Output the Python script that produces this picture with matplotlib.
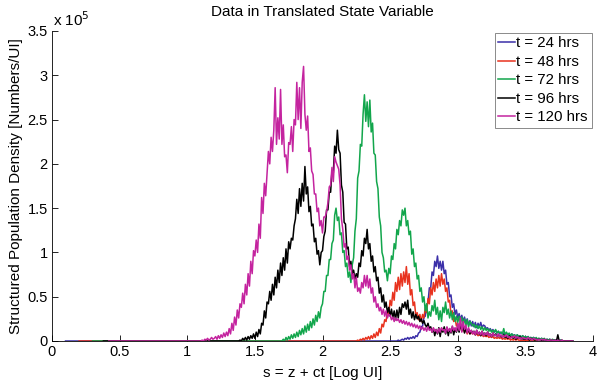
import numpy as np
import matplotlib
matplotlib.use("Agg")
import matplotlib.pyplot as plt

plt.rcParams['font.family'] = ['Liberation Sans', 'DejaVu Sans']

STEP = 0.01

labels = ["t = 24 hrs", "t = 48 hrs", "t = 72 hrs", "t = 96 hrs", "t = 120 hrs"]
colors = ["#3b2fa8", "#e8321e", "#12a64c", "#000000", "#c4249f"]

# baseline (zero) start and first digitized s for each series
zero_start = [0.10, 0.20, 0.30, 0.38, 0.42]
data_start = [2.55, 2.25, 1.70, 1.38, 1.10]

# values in units of 1e5 [Numbers/UI], sampled every 0.01 from data_start
blue = [0.0, 0.01, 0.0, 0.01, 0.02,
        0.01, 0.03, 0.02, 0.04, 0.02, 0.04, 0.03, 0.05, 0.03, 0.06,
        0.05, 0.09, 0.1, 0.16, 0.17, 0.27, 0.28, 0.41, 0.43, 0.6,
        0.6, 0.78, 0.74, 0.9, 0.84, 0.96, 0.82, 0.9, 0.8, 0.9,
        0.76, 0.8, 0.64, 0.66, 0.5, 0.52, 0.38, 0.42, 0.3, 0.35,
        0.26, 0.31, 0.24, 0.29, 0.22, 0.27, 0.2, 0.25, 0.18, 0.23,
        0.17, 0.22, 0.16, 0.21, 0.15, 0.2, 0.16, 0.21, 0.15, 0.18,
        0.17, 0.14, 0.15, 0.12, 0.14, 0.11, 0.13, 0.1, 0.12, 0.09,
        0.11, 0.08, 0.1, 0.08, 0.09, 0.07, 0.09, 0.07, 0.08, 0.06,
        0.08, 0.06, 0.07, 0.05, 0.07, 0.05, 0.06, 0.04, 0.06, 0.04,
        0.05, 0.04, 0.05, 0.03, 0.04, 0.03, 0.04, 0.03, 0.03, 0.02,
        0.03, 0.02, 0.03, 0.02, 0.02, 0.01, 0.02, 0.01, 0.02, 0.01,
        0.01, 0.01, 0.01, 0.0, 0.01, 0.0, 0.01, 0.0, 0.0, 0.0,
        0.0, 0.0, 0.0, 0.0, 0.0, 0.0]

red = [0.0, 0.01, 0.0, 0.02, 0.01,
       0.03, 0.01, 0.04, 0.02, 0.05, 0.02, 0.06, 0.03, 0.08, 0.04,
       0.1, 0.06, 0.14, 0.09, 0.19, 0.16, 0.24, 0.22, 0.34, 0.3,
       0.46, 0.4, 0.55, 0.46, 0.66, 0.56, 0.72, 0.58, 0.76, 0.62,
       0.78, 0.66, 0.84, 0.64, 0.76, 0.52, 0.58, 0.4, 0.44, 0.28,
       0.32, 0.24, 0.3, 0.22, 0.3, 0.26, 0.38, 0.32, 0.48, 0.42,
       0.6, 0.52, 0.66, 0.56, 0.7, 0.6, 0.74, 0.62, 0.76, 0.64,
       0.7, 0.56, 0.6, 0.44, 0.46, 0.3, 0.34, 0.22, 0.26, 0.17,
       0.2, 0.13, 0.17, 0.11, 0.15, 0.1, 0.13, 0.08, 0.12, 0.08,
       0.1, 0.08, 0.09, 0.07, 0.08, 0.06, 0.07, 0.06, 0.07, 0.05,
       0.06, 0.05, 0.06, 0.04, 0.05, 0.04, 0.05, 0.03, 0.04, 0.03,
       0.04, 0.03, 0.04, 0.02, 0.03, 0.02, 0.03, 0.02, 0.03, 0.01,
       0.02, 0.01, 0.02, 0.01, 0.02, 0.01, 0.01, 0.0, 0.01, 0.0,
       0.01, 0.0, 0.01, 0.0, 0.0, 0.01, 0.0, 0.0, 0.0, 0.0]

green = [0.0, 0.02, 0.0, 0.04, 0.01, 0.05, 0.02, 0.07, 0.03, 0.08,
         0.04, 0.1, 0.05, 0.12, 0.07, 0.14, 0.08, 0.17, 0.1, 0.19,
         0.12, 0.22, 0.15, 0.25, 0.18, 0.29, 0.22, 0.33, 0.26, 0.38,
         0.42, 0.56, 0.56, 0.74, 0.74, 0.92, 0.92, 1.1, 1.14, 1.42,
         1.5, 1.36, 1.4, 1.2, 1.22, 1.0, 1.02, 0.84, 0.88, 0.72,
         0.78, 0.66, 0.86, 0.94, 1.24, 1.38, 1.84, 1.92, 2.22, 2.2,
         2.56, 2.78, 2.48, 2.7, 2.42, 2.72, 2.36, 2.46, 2.12, 2.1,
         1.8, 1.72, 1.4, 1.3, 1.0, 0.94, 0.78, 0.8, 0.68, 0.82,
         0.76, 0.96, 0.92, 1.1, 1.04, 1.26, 1.2, 1.36, 1.3, 1.48,
         1.42, 1.5, 1.3, 1.36, 1.2, 1.24, 0.98, 1.04, 0.84, 0.88,
         0.7, 0.74, 0.56, 0.6, 0.44, 0.5, 0.34, 0.42, 0.26, 0.33,
         0.28, 0.4, 0.34, 0.46, 0.3, 0.38, 0.24, 0.34, 0.22, 0.38,
         0.32, 0.44, 0.3, 0.36, 0.26, 0.34, 0.24, 0.32, 0.22, 0.28,
         0.21, 0.28, 0.2, 0.27, 0.19, 0.25, 0.17, 0.24, 0.16, 0.22,
         0.2, 0.17, 0.19, 0.15, 0.18, 0.14, 0.17, 0.13, 0.16, 0.12,
         0.15, 0.12, 0.14, 0.11, 0.13, 0.1, 0.12, 0.1, 0.13, 0.09,
         0.11, 0.09, 0.1, 0.08, 0.14, 0.07, 0.1, 0.07, 0.09, 0.06,
         0.08, 0.06, 0.07, 0.05, 0.07, 0.05, 0.06, 0.04, 0.06, 0.04,
         0.05, 0.04, 0.05, 0.03, 0.04, 0.03, 0.04, 0.02, 0.04, 0.02,
         0.03, 0.02, 0.03, 0.02, 0.03, 0.01, 0.02, 0.01, 0.02, 0.01,
         0.02, 0.01, 0.01, 0.0, 0.01, 0.0, 0.01, 0.0, 0.0, 0.0,
         0.0, 0.0, 0.0, 0.0, 0.0, 0.0]

black = [0.0, 0.01,
         0.0, 0.03, 0.01, 0.04, 0.01, 0.05, 0.02, 0.06, 0.03, 0.08,
         0.03, 0.1, 0.05, 0.13, 0.08, 0.2, 0.18, 0.34, 0.26, 0.44,
         0.42, 0.56, 0.46, 0.64, 0.52, 0.72, 0.6, 0.8, 0.66, 0.88,
         0.74, 0.94, 0.8, 1.04, 0.88, 1.12, 1.04, 1.16, 1.14, 1.3,
         1.38, 1.6, 1.44, 1.72, 1.52, 1.78, 1.58, 1.97, 1.66, 1.74,
         1.46, 1.52, 1.3, 1.32, 1.12, 1.16, 0.98, 1.02, 0.86, 1.0,
         1.02, 1.18, 1.24, 1.48, 1.48, 1.68, 1.68, 1.92, 1.9, 2.2,
         2.12, 2.38, 2.16, 2.12, 1.76, 1.68, 1.34, 1.32, 1.04, 1.06,
         0.84, 0.9, 0.74, 0.8, 0.7, 0.76, 0.72, 0.88, 0.84, 1.02,
         0.96, 1.16, 1.1, 1.26, 1.04, 1.1, 0.9, 0.96, 0.78, 0.84,
         0.68, 0.72, 0.54, 0.6, 0.44, 0.52, 0.38, 0.44, 0.32, 0.38,
         0.28, 0.36, 0.26, 0.34, 0.24, 0.35, 0.26, 0.38, 0.3, 0.42,
         0.38, 0.44, 0.36, 0.46, 0.3, 0.36, 0.26, 0.33, 0.24, 0.3,
         0.25, 0.28, 0.22, 0.25, 0.2, 0.23, 0.18, 0.16, 0.2, 0.14,
         0.16, 0.1, 0.14, 0.06, 0.13, 0.08, 0.15, 0.05, 0.14, 0.1,
         0.16, 0.08, 0.15, 0.06, 0.14, 0.09, 0.16, 0.07, 0.14, 0.1,
         0.16, 0.1, 0.2, 0.12, 0.17, 0.09, 0.14, 0.1, 0.13, 0.08,
         0.12, 0.09, 0.11, 0.07, 0.12, 0.08, 0.1, 0.06, 0.11, 0.07,
         0.09, 0.06, 0.1, 0.07, 0.08, 0.05, 0.09, 0.06, 0.08, 0.05,
         0.07, 0.05, 0.06, 0.04, 0.07, 0.04, 0.05, 0.03, 0.06, 0.04,
         0.05, 0.03, 0.05, 0.02, 0.04, 0.03, 0.05, 0.02, 0.03, 0.02,
         0.03, 0.02, 0.03, 0.01, 0.03, 0.02, 0.02, 0.01, 0.02, 0.01,
         0.02, 0.01, 0.01, 0.0, 0.02, 0.01, 0.01, 0.0, 0.01, 0.0,
         0.01, 0.0, 0.01, 0.0, 0.07, 0.0, 0.0, 0.01, 0.0, 0.0,
         0.0, 0.0, 0.0, 0.0, 0.0, 0.0]

magenta = [0.0, 0.01, 0.0, 0.02, 0.01, 0.03, 0.01, 0.02, 0.04, 0.02,
           0.03, 0.05, 0.02, 0.06, 0.03, 0.07, 0.04, 0.09, 0.05, 0.1,
           0.06, 0.14, 0.08, 0.2, 0.12, 0.27, 0.18, 0.35, 0.26, 0.42,
           0.38, 0.54, 0.42, 0.64, 0.52, 0.76, 0.62, 0.9, 0.76, 1.02,
           0.96, 1.14, 1.0, 1.32, 1.16, 1.62, 1.44, 1.78, 1.64, 1.9,
           2.14, 2.0, 2.3, 2.14, 2.38, 2.86, 2.22, 2.52, 2.28, 2.84,
           2.22, 2.44, 2.08, 2.1, 1.9, 2.24, 2.22, 2.42, 2.14, 2.5,
           2.44, 2.92, 2.5, 2.86, 2.4, 2.92, 3.1, 2.56, 2.38, 2.54,
           2.14, 2.18, 1.92, 1.88, 1.66, 1.66, 1.46, 1.5, 1.3, 1.36,
           1.22, 1.4, 1.4, 1.46, 1.56, 1.74, 1.76, 1.96, 1.8, 2.08,
           2.02, 1.98, 1.94, 1.76, 1.38, 1.26, 1.06, 1.1, 0.92, 0.96,
           0.8, 0.86, 0.7, 0.76, 0.6, 0.72, 0.56, 0.6, 0.54, 0.66,
           0.6, 0.74, 0.62, 0.74, 0.6, 0.7, 0.54, 0.6, 0.44, 0.5,
           0.38, 0.42, 0.34, 0.38, 0.3, 0.36, 0.28, 0.34, 0.26, 0.3,
           0.29, 0.24, 0.27, 0.22, 0.26, 0.23, 0.25, 0.21, 0.24, 0.2,
           0.23, 0.19, 0.22, 0.18, 0.21, 0.17, 0.2, 0.16, 0.19, 0.15,
           0.18, 0.14, 0.17, 0.13, 0.16, 0.12, 0.15, 0.11, 0.16, 0.12,
           0.14, 0.1, 0.15, 0.11, 0.13, 0.09, 0.14, 0.1, 0.15, 0.12,
           0.13, 0.09, 0.16, 0.11, 0.14, 0.1, 0.17, 0.12, 0.15, 0.11,
           0.2, 0.12, 0.26, 0.1, 0.22, 0.13, 0.18, 0.09, 0.15, 0.1,
           0.12, 0.08, 0.11, 0.07, 0.12, 0.08, 0.1, 0.07, 0.11, 0.06,
           0.09, 0.07, 0.1, 0.06, 0.08, 0.05, 0.09, 0.06, 0.07, 0.05,
           0.08, 0.05, 0.07, 0.04, 0.06, 0.05, 0.07, 0.04, 0.05, 0.03,
           0.05, 0.04, 0.06, 0.03, 0.05, 0.03, 0.04, 0.02, 0.04, 0.03,
           0.03, 0.02, 0.04, 0.02, 0.03, 0.01, 0.03, 0.02, 0.02, 0.01,
           0.02, 0.01, 0.02, 0.01, 0.02, 0.01, 0.01, 0.0, 0.01, 0.01,
           0.01, 0.0, 0.01, 0.0, 0.01, 0.0, 0.0, 0.01, 0.0, 0.0,
           0.0, 0.0, 0.0, 0.0, 0.0, 0.0]

series = [blue, red, green, black, magenta]

x_ticks = [0, 0.5, 1, 1.5, 2, 2.5, 3, 3.5, 4]
x_ticklabels = ["0", "0.5", "1", "1.5", "2", "2.5", "3", "3.5", "4"]
y_ticks = [0, 0.5, 1, 1.5, 2, 2.5, 3, 3.5]
y_ticklabels = ["0", "0.5", "1", "1.5", "2", "2.5", "3", "3.5"]

fig = plt.figure(figsize=(6.02, 3.91), dpi=100)
ax = fig.add_axes([52 / 602, 1 - 341 / 391, (593 - 52) / 602, (341 - 31) / 391])

for vals, z0, d0, col, lab in zip(series, zero_start, data_start, colors, labels):
    xs = d0 + STEP * np.arange(len(vals))
    xs = np.concatenate([[z0], xs])
    ys = np.concatenate([[0.0], np.array(vals)])
    ax.plot(xs, ys, color=col, lw=1.1, label=lab)

ax.set_xlim(0, 4)
ax.set_ylim(0, 3.5)
ax.set_xticks(x_ticks)
ax.set_xticklabels(x_ticklabels)
ax.set_yticks(y_ticks)
ax.set_yticklabels(y_ticklabels)
ax.tick_params(direction='in', length=4, width=0.6, labelsize=10.5, pad=3)
for sp in ['top', 'right']:
    ax.spines[sp].set_visible(False)
for sp in ['left', 'bottom']:
    ax.spines[sp].set_linewidth(0.6)

fig.text(0.5357, 1 - 12 / 391, "Data in Translated State Variable", fontsize=11,
         ha='center', va='center')
ax.set_xlabel("s = z + ct [Log UI]", fontsize=11, labelpad=5)
ax.set_ylabel("Structured Population Density [Numbers/UI]", fontsize=11, labelpad=3)
ax.text(0.002, 1.008, r"x 10$^{5}$", transform=ax.transAxes, fontsize=11,
        ha='left', va='bottom')

leg = ax.legend(loc='upper right', fontsize=10.8, handlelength=1.1, handletextpad=0.1,
                labelspacing=0.3, borderpad=0.25, borderaxespad=0.1,
                frameon=True, fancybox=False, edgecolor='#555555')
leg.get_frame().set_linewidth(0.6)

fig.savefig("out.png", dpi=100)
